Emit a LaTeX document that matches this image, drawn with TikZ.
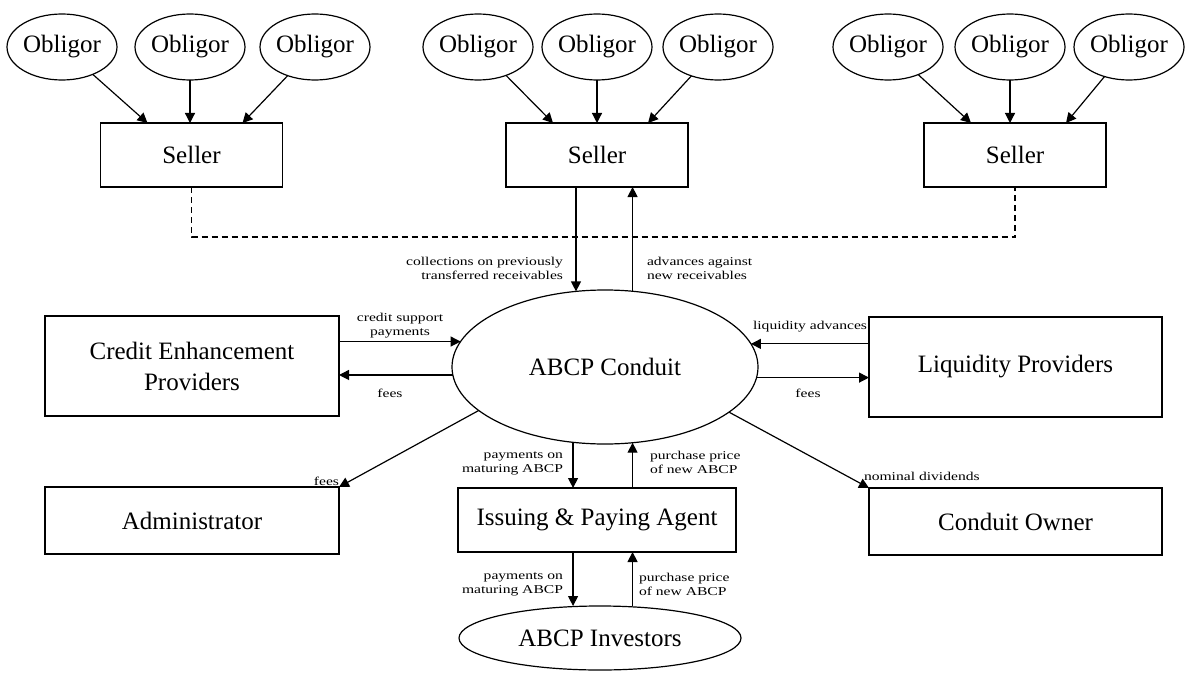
\documentclass[tikz,border=0pt]{standalone}
\usepackage{fontspec}
\setmainfont{Liberation Serif}
\newfontfamily\lblfont[FakeStretch=1.3]{Liberation Serif}
\usetikzlibrary{arrows.meta,calc,shapes.geometric}
\begin{document}
\begin{tikzpicture}[x=1pt,y=-1pt,
  every node/.style={inner sep=0pt, outer sep=0pt},
  box/.style={draw, line width=1.2pt, rectangle, align=center, font=\fontsize{25}{31}\selectfont},
  ell/.style={draw, line width=1.2pt, ellipse, font=\fontsize{25}{31}\selectfont},
  obl/.style={ell, minimum width=107pt, minimum height=66pt},
  seller/.style={box, minimum width=182pt, minimum height=64pt},
  arr/.style={line width=1.2pt, -{Triangle[length=10pt,width=10pt]}},
  dashlink/.style={line width=1.2pt, dash pattern=on 6pt off 4pt},
  lbl/.style={font=\lblfont\fontsize{12}{14}\selectfont},
]
\useasboundingbox (0,0) rectangle (1196,674);

% obligors
\node[obl] (o11) at (62,47) {Obligor};
\node[obl] (o12) at (190,47) {Obligor};
\node[obl] (o13) at (315,47) {Obligor};
\node[obl] (o21) at (478,47) {Obligor};
\node[obl] (o22) at (597,47) {Obligor};
\node[obl] (o23) at (718,47) {Obligor};
\node[obl] (o31) at (888,47) {Obligor};
\node[obl] (o32) at (1010,47) {Obligor};
\node[obl] (o33) at (1129,47) {Obligor};

% sellers
\node[seller] (s1) at (191.5,155) {Seller};
\node[seller] (s2) at (597,155) {Seller};
\node[seller] (s3) at (1015,155) {Seller};

% conduit and others
\node[ell, minimum width=306pt, minimum height=154pt] (c) at (605,367) {ABCP Conduit};
\node[box, minimum width=294pt, minimum height=100pt] (ce) at (192,366) {Credit Enhancement\\Providers};
\node[box, minimum width=293pt, minimum height=100pt] (lp) at (1015.5,367) {Liquidity Providers};
\node[box, minimum width=294pt, minimum height=67pt] (ad) at (192,520.5) {Administrator};
\node[box, minimum width=293pt, minimum height=67pt] (co) at (1015.5,521.5) {Conduit Owner};
\node[box, minimum width=278pt, minimum height=64pt] (ipa) at (597,520) {Issuing \& Paying Agent};
\node[ell, minimum width=282pt, minimum height=64pt] (inv) at (600,638) {ABCP Investors};

% obligor arrows
\foreach \g in {1,2,3}{
  \draw[arr] (o\g1) -- ($(s\g.north west)+(47,0)$);
  \draw[arr] (o\g2) -- (o\g2 |- s\g.north);
  \draw[arr] (o\g3) -- ($(s\g.north east)+(-40,0)$);
}

% dashed link between outer sellers
\draw[dashlink] (s1.south) -- (s1.south |- 0,237) -- (s3.south |- 0,237) -- (s3.south);

% seller <-> conduit
\draw[arr] (s2.south -| c.111.67) -- (c.111.67);
\draw[arr] (c.70.39) -- (s2.south -| c.70.39);

% credit enhancement
\draw[arr] (ce.east |- c.170.63) -- (c.170.63);
\draw[arr] (c.183.77) -- (ce.east |- c.183.77);

% liquidity
\draw[arr] (lp.west |- c.9.37) -- (c.9.37);
\draw[arr] (c.356.23) -- (lp.west |- c.356.23);

% administrator, owner
\draw[arr] (c.199.25) -- (ad.north east);
\draw[arr] (c.340.6) -- (co.north west);

% issuing & paying agent
\draw[arr] (c.247.65) -- (ipa.north -| c.247.65);
\draw[arr] (ipa.north -| c.290.3) -- (c.290.3);
\draw[arr] (ipa.south -| c.247.65) -- (inv.north -| c.247.65);
\draw[arr] (inv.north -| c.290.3) -- (ipa.south -| c.290.3);

% labels
\node[lbl, anchor=east, align=right] (l1) at (563,268) {collections on previously\\transferred receivables};
\node[lbl, anchor=west, align=left] (l2) at (647,268) {advances against\\new receivables};
\node[lbl, align=center] (l3) at (400,326) {credit support\\payments};
\node[lbl] (l4) at (390,393) {fees};
\node[lbl, anchor=east] (l5) at (867,327) {liquidity advances};
\node[lbl] (l6) at (808,393) {fees};
\node[lbl, anchor=east] (l7) at (339,481) {fees};
\node[lbl, anchor=west] (l8) at (864,476) {nominal dividends};
\node[lbl, anchor=east, align=right] (l9) at (563,463) {payments on\\maturing ABCP};
\node[lbl, anchor=west, align=left] (l10) at (650,462) {purchase price\\of new ABCP};
\node[lbl, anchor=east, align=right] (l11) at (563,584) {payments on\\maturing ABCP};
\node[lbl, anchor=west, align=left] (l12) at (639,584) {purchase price\\of new ABCP};
\end{tikzpicture}
\end{document}
